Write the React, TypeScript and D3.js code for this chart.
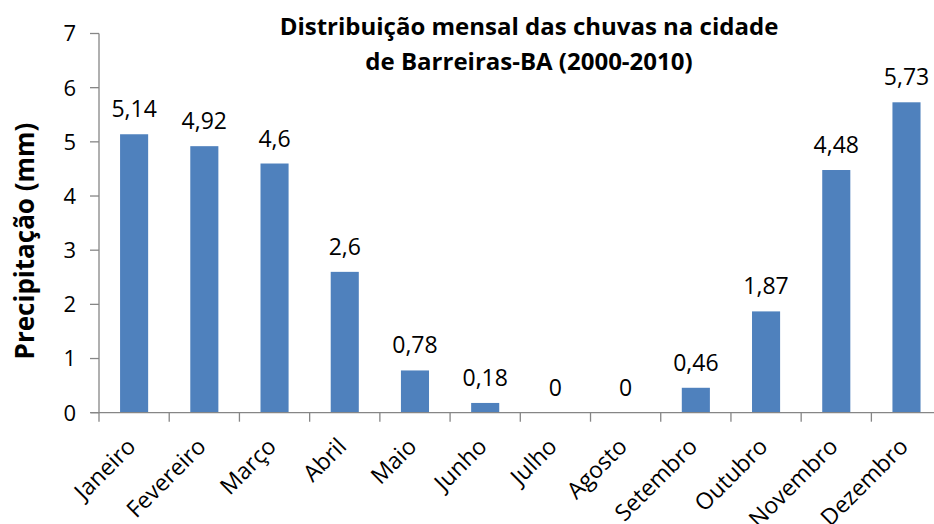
import React from "react";
import * as d3 from "d3";

const months = ["Janeiro","Fevereiro","Março","Abril","Maio","Junho","Julho","Agosto","Setembro","Outubro","Novembro","Dezembro"];
const values = [5.14, 4.92, 4.6, 2.6, 0.78, 0.18, 0, 0, 0.46, 1.87, 4.48, 5.73];
const yTicks = [0, 1, 2, 3, 4, 5, 6, 7];
const titleLines = ["Distribuição mensal das chuvas na cidade", "de Barreiras-BA (2000-2010)"];
const yTitle = "Precipitação (mm)";

const W = 934, H = 524;
const FONT = "'Open Sans', sans-serif";

export default function App() {
  const x = d3.scaleBand<string>().domain(months).range([99, 941.6]).paddingInner(0.6).paddingOuter(0.3);
  const y = d3.scaleLinear().domain([0, 7]).range([412.7, 33.5]);
  const step = x.step();
  const x0 = 99;
  const fmt = (v: number) => String(v).replace(".", ",");
  return (
    <svg width={W} height={H} style={{ position: "absolute", left: 0, top: 0, background: "#fff" }} fontFamily={FONT}>
      <text x={529} y={35} textAnchor="middle" fontWeight="bold" fontSize={24} fill="#000">{titleLines[0]}</text>
      <text x={529} y={70} textAnchor="middle" fontWeight="bold" fontSize={24} fill="#000">{titleLines[1]}</text>
      <text transform={`translate(34,241) rotate(-90)`} textAnchor="middle" fontWeight="bold" fontSize={26} fill="#000">{yTitle}</text>
      {yTicks.map(t => (
        <g key={t}>
          <line x1={90} x2={99} y1={y(t)} y2={y(t)} stroke="#868686" strokeWidth={1.3} />
          <text x={76} y={y(t)} dy="0.36em" textAnchor="end" fontSize={22} fill="#000">{t}</text>
        </g>
      ))}
      {values.map((v, i) => (
        <rect key={i} x={x(months[i])} y={y(v)} width={x.bandwidth()} height={y(0) - y(v)} fill="#4F81BD" />
      ))}
      <line x1={99} x2={99} y1={y(7)} y2={y(0)} stroke="#868686" strokeWidth={1.3} />
      <line x1={91} x2={W} y1={y(0)} y2={y(0)} stroke="#868686" strokeWidth={1.3} />
      {months.map((m, i) => (
        <line key={m} x1={x0 + i * step} x2={x0 + i * step} y1={y(0)} y2={y(0) + 9} stroke="#868686" strokeWidth={1.3} />
      ))}
      {values.map((v, i) => (
        <text key={i} x={(x(months[i]) as number) + x.bandwidth() / 2} y={y(v) - 17} textAnchor="middle" fontSize={23} fill="#000">{fmt(v)}</text>
      ))}
      {months.map(m => (
        <text key={m} transform={`translate(${(x(m) as number) + x.bandwidth() / 2 + 3},448) rotate(-45)`} textAnchor="end" fontSize={23} fill="#000">{m}</text>
      ))}
    </svg>
  );
}
